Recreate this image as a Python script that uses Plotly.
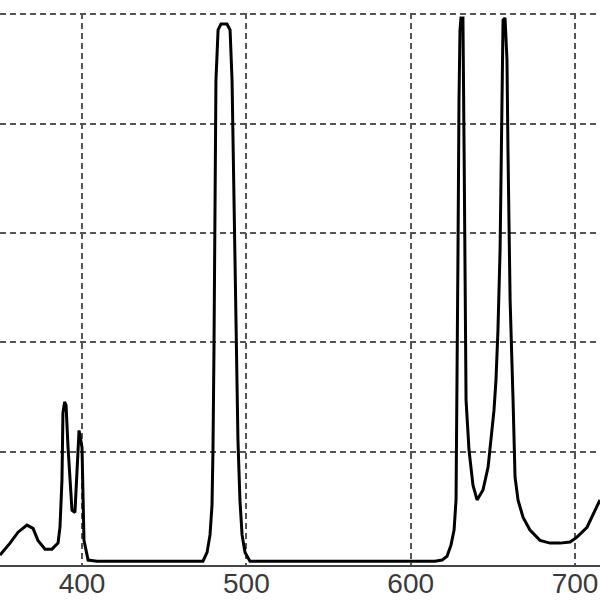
import plotly.graph_objects as go

# emission spectrum, wavelength in nm, normalised intensity
wavelength = [
    350.1, 356.2, 361.1, 366.5, 370.2, 373.2, 377.5, 381.7, 385.4, 386.6,
    387.8, 388.4, 389.4, 390.3, 391.5, 393.9, 395.7, 397.0, 398.2, 400.0,
    400.6, 401.2, 403.7, 409.1, 440.0, 468.8,
    473.6, 476.1, 477.9, 479.1, 479.7, 480.3, 480.9, 481.5, 482.8, 484.6,
    488.2, 490.1, 491.3, 492.5, 493.7, 494.9, 496.1, 497.4, 499.2, 502.2,
    505.9, 560.0, 605.7,
    614.8, 619.1, 622.1, 624.5, 626.4, 627.6, 628.2, 628.8, 629.4, 630.0,
    630.6, 631.8, 632.5, 633.1, 633.7, 635.5, 637.9, 640.4, 644.0, 647.1,
    649.5, 650.7, 651.9, 653.1, 654.4, 655.0, 655.6, 656.2, 657.4, 658.6,
    659.2, 660.5, 662.3, 663.5, 665.3, 668.4, 672.6, 678.7, 684.8, 690.9,
    697.0, 701.2, 707.3, 713.4, 715.2,
]
intensity = [
    0.011, 0.033, 0.053, 0.066, 0.060, 0.038, 0.022, 0.022, 0.033, 0.062,
    0.148, 0.271, 0.291, 0.285, 0.208, 0.093, 0.089, 0.179, 0.239, 0.208,
    0.099, 0.038, 0.002, 0.0, 0.0, 0.0,
    0.0, 0.016, 0.048, 0.102, 0.203, 0.386, 0.660, 0.879, 0.971, 0.982,
    0.982, 0.971, 0.879, 0.660, 0.422, 0.221, 0.112, 0.048, 0.016, 0.0,
    0.0, 0.0, 0.0,
    0.0, 0.002, 0.009, 0.029, 0.057, 0.112, 0.294, 0.569, 0.843, 0.970,
    0.993, 0.993, 0.751, 0.477, 0.294, 0.203, 0.139, 0.112, 0.130, 0.172,
    0.234, 0.276, 0.331, 0.422, 0.569, 0.751, 0.916, 0.989, 0.993, 0.916,
    0.751, 0.477, 0.294, 0.154, 0.112, 0.080, 0.057, 0.038, 0.033, 0.033,
    0.035, 0.044, 0.062, 0.099, 0.112,
]
x_ticks = [400, 500, 600, 700]
y_grid = [0.2, 0.4, 0.6, 0.8, 1.0]

fig = go.Figure(go.Scatter(
    x=wavelength, y=intensity, mode="lines",
    line=dict(color="black", width=3),
))

fig.update_layout(
    width=600, height=600,
    margin=dict(l=0, r=0, t=13, b=35),
    plot_bgcolor="white", paper_bgcolor="white",
    showlegend=False,
    xaxis=dict(
        range=[350.1, 715.2], tickvals=x_ticks, ticks="",
        showgrid=True, gridcolor="#555", gridwidth=2, griddash="6px,4px",
        showline=True, linecolor="#444", linewidth=2, zeroline=False,
        automargin=False, ticklabelstandoff=-8,
        tickfont=dict(family="Liberation Sans", size=28, color="#3a3a3a"),
    ),
    yaxis=dict(
        range=[-0.007, 1.002], tickvals=y_grid, showticklabels=False, ticks="",
        showgrid=True, gridcolor="#555", gridwidth=2, griddash="6px,4px",
        showline=False, zeroline=False, automargin=False,
    ),
)

# page has a default 8px body margin; drop it so the figure fills the window
fig.write_html(
    "out.html",
    config={"displayModeBar": False},
    post_script="document.body.style.margin='0';",
)
